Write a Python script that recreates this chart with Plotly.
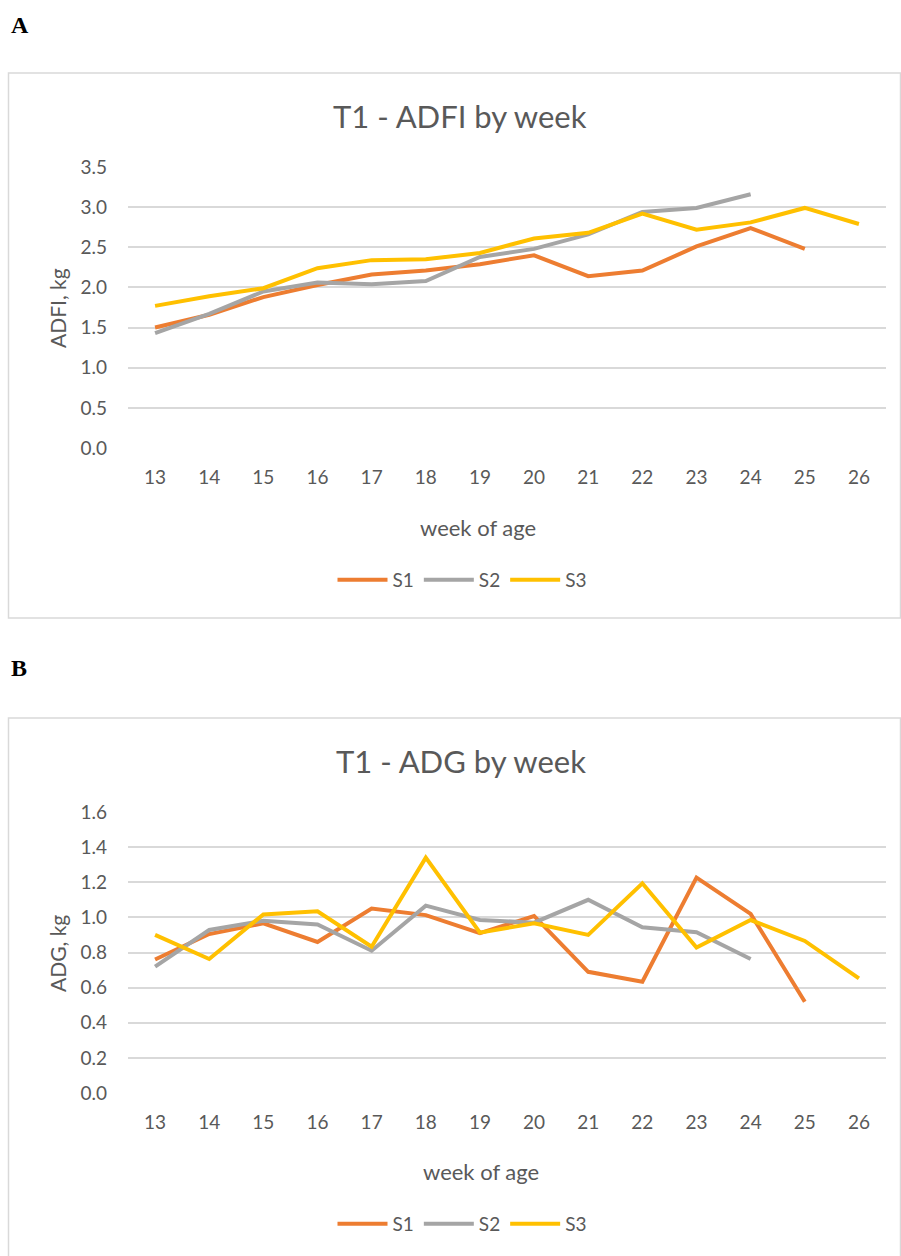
import plotly.graph_objects as go

W, H = 901, 1256

weeks = [str(w) for w in range(13, 27)]

adfi_s1 = [1.50, 1.66, 1.88, 2.03, 2.16, 2.21, 2.29, 2.40, 2.14, 2.21, 2.51, 2.74, 2.48, None]
adfi_s2 = [1.43, 1.67, 1.95, 2.06, 2.04, 2.08, 2.38, 2.48, 2.66, 2.94, 2.99, 3.16, None, None]
adfi_s3 = [1.77, 1.89, 1.99, 2.24, 2.34, 2.35, 2.43, 2.61, 2.68, 2.92, 2.72, 2.81, 2.99, 2.79]

adg_s1 = [0.76, 0.905, 0.966, 0.86, 1.05, 1.013, 0.91, 1.008, 0.69, 0.634, 1.226, 1.02, 0.52, None]
adg_s2 = [0.72, 0.928, 0.981, 0.96, 0.81, 1.067, 0.985, 0.97, 1.10, 0.944, 0.915, 0.763, None, None]
adg_s3 = [0.90, 0.763, 1.017, 1.035, 0.833, 1.34, 0.913, 0.966, 0.90, 1.194, 0.828, 0.985, 0.866, 0.653]

series_names = ["S1", "S2", "S3"]
colors = ["#ED7D31", "#A5A5A5", "#FFC000"]

FONT = "Lato"
TXT = "#595959"
GRID = "#d9d9d9"


def py(px):
    return 1 - px / H


def pxx(px):
    return px / W


fig = go.Figure()

for name, vals, col in zip(series_names, [adfi_s1, adfi_s2, adfi_s3], colors):
    fig.add_trace(go.Scatter(x=weeks, y=vals, name=name, mode="lines",
                             line=dict(color=col, width=4), xaxis="x", yaxis="y",
                             legend="legend", connectgaps=False))
for name, vals, col in zip(series_names, [adg_s1, adg_s2, adg_s3], colors):
    fig.add_trace(go.Scatter(x=weeks, y=vals, name=name, mode="lines",
                             line=dict(color=col, width=4), xaxis="x2", yaxis="y2",
                             legend="legend2", connectgaps=False))

xdom = [pxx(128), pxx(886)]
common_x = dict(type="category", range=[-0.5, 13.5], showgrid=False, zeroline=False,
                showline=False, ticks="", tickfont=dict(family=FONT, size=19, color=TXT),
                ticklabelstandoff=16, fixedrange=True, automargin=False)
common_y = dict(showgrid=True, gridcolor=GRID, gridwidth=1.5, zeroline=False, showline=False,
                ticks="", tickfont=dict(family=FONT, size=19, color=TXT),
                ticklabelstandoff=20, fixedrange=True, automargin=False)

leg = dict(orientation="h", xanchor="center", yanchor="middle",
           font=dict(family=FONT, size=19, color=TXT), itemwidth=50,
           bgcolor="rgba(0,0,0,0)", tracegroupgap=0)

fig.update_layout(
    width=W, height=H,
    margin=dict(l=0, r=0, t=0, b=0, pad=0, autoexpand=False),
    paper_bgcolor="white", plot_bgcolor="white",
    xaxis=dict(domain=xdom, anchor="y", **common_x),
    yaxis=dict(domain=[py(448), py(167)], anchor="x", range=[0, 3.5], dtick=0.5,
               tickformat=".1f", **common_y),
    xaxis2=dict(domain=xdom, anchor="y2", **common_x),
    yaxis2=dict(domain=[py(1093), py(812)], anchor="x2", range=[0, 1.6], dtick=0.2,
                tickformat=".1f", **common_y),
    legend=dict(x=pxx(462), y=py(580), **leg),
    legend2=dict(x=pxx(462), y=py(1224), **leg),
    showlegend=True,
)

# panel frames
fig.add_shape(type="rect", xref="paper", yref="paper", x0=pxx(8.5), x1=pxx(900.5),
              y0=py(618), y1=py(73), line=dict(color=GRID, width=1.5), layer="below")
fig.add_shape(type="rect", xref="paper", yref="paper", x0=pxx(8.5), x1=pxx(900.5),
              y0=py(1262), y1=py(718), line=dict(color=GRID, width=1.5), layer="below")

ann = []
ann.append(dict(text="<b>A</b>", x=pxx(9), y=py(25), xanchor="left", yanchor="middle",
                font=dict(family="Liberation Serif", size=24, color="black")))
ann.append(dict(text="<b>B</b>", x=pxx(9), y=py(668), xanchor="left", yanchor="middle",
                font=dict(family="Liberation Serif", size=24, color="black")))
ann.append(dict(text="T1 - ADFI by week", x=pxx(460), y=py(116), xanchor="center", yanchor="middle",
                font=dict(family=FONT, size=31, color=TXT)))
ann.append(dict(text="T1 - ADG by week", x=pxx(461), y=py(761), xanchor="center", yanchor="middle",
                font=dict(family=FONT, size=31, color=TXT)))
ann.append(dict(text="ADFI, kg", x=pxx(57), y=py(308), xanchor="center", yanchor="middle",
                textangle=-90, font=dict(family=FONT, size=21, color=TXT)))
ann.append(dict(text="ADG, kg", x=pxx(57), y=py(953), xanchor="center", yanchor="middle",
                textangle=-90, font=dict(family=FONT, size=21, color=TXT)))
ann.append(dict(text="week of age", x=pxx(478), y=py(527), xanchor="center", yanchor="middle",
                font=dict(family=FONT, size=22, color=TXT)))
ann.append(dict(text="week of age", x=pxx(481), y=py(1171), xanchor="center", yanchor="middle",
                font=dict(family=FONT, size=22, color=TXT)))
for a in ann:
    a.update(xref="paper", yref="paper", showarrow=False)
fig.update_layout(annotations=ann)

fig.write_html("out.html", config={"displayModeBar": False},
               post_script="document.body.style.margin='0';document.body.style.overflow='hidden';")
